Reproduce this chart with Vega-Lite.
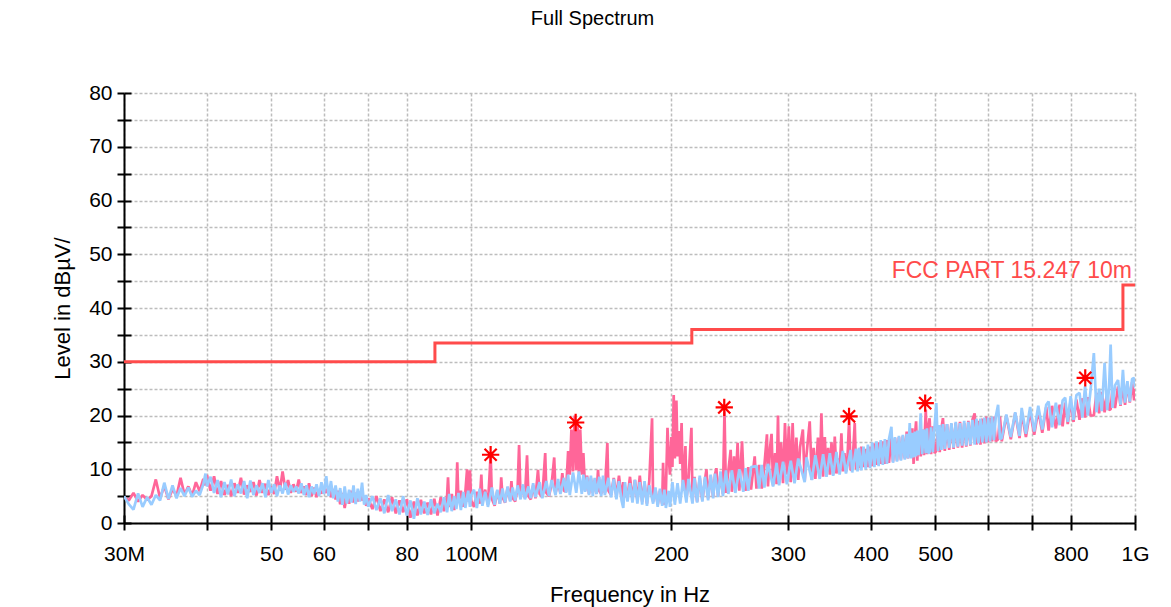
{
  "$schema": "https://vega.github.io/schema/vega-lite/v6.json",
  "width": 1011,
  "height": 430,
  "autosize": "none",
  "padding": {"left": 124, "top": 93, "right": 36, "bottom": 84},
  "background": "white",
  "title": {"text": "Full Spectrum", "fontSize": 20, "font": "Liberation Sans", "fontWeight": "normal", "color": "#000000", "anchor": "middle", "offset": 53, "dx": -37},
  "config": {
    "font": "Liberation Sans",
    "view": {"stroke": null},
    "axis": {
      "domainColor": "#000000", "domainWidth": 2, "tickColor": "#000000", "tickWidth": 2,
      "labelFont": "Liberation Sans", "labelFontSize": 21, "labelColor": "#000000",
      "titleFont": "Liberation Sans", "titleFontSize": 22, "titleFontWeight": "normal", "titleColor": "#000000",
      "gridColor": "#bdbdbd", "gridDash": [3, 2], "gridWidth": 1.5
    }
  },
  "datasets": {
    "spec": [
      {"f":30,"p":4.8,"b":5.0},{"f":30.5,"p":4.2,"b":3.5},{"f":31,"p":5.6,"b":2.5},{"f":31.5,"p":4.0,"b":5.5},
      {"f":32,"p":5.2,"b":3.0},{"f":32.5,"p":4.3,"b":4.8},{"f":33,"p":5.0,"b":3.4},{"f":33.5,"p":8.1,"b":5.2},
      {"f":34,"p":4.6,"b":4.2},{"f":34.5,"p":6.9,"b":7.5},{"f":35,"p":4.4,"b":4.5},{"f":35.5,"p":6.3,"b":7.0},
      {"f":36,"p":5.0,"b":4.6},{"f":36.5,"p":8.4,"b":6.5},{"f":37,"p":5.3,"b":5.0},{"f":37.5,"p":6.8,"b":6.6},
      {"f":38,"p":5.1,"b":4.9},{"f":38.5,"p":7.6,"b":6.0},{"f":39,"p":5.9,"b":5.2},{"f":39.5,"p":8.2,"b":7.2},
      {"f":39.8,"p":7.0,"b":9.2},{"f":40,"p":8.9,"b":6.8},
      {"f":40.5,"p":6.0,"b":8.6},{"f":41,"p":8.7,"b":5.6},{"f":41.5,"p":5.4,"b":8.0},{"f":42,"p":7.8,"b":4.8},
      {"f":42.5,"p":5.2,"b":7.6},{"f":43,"p":7.1,"b":5.3},{"f":43.5,"p":5.0,"b":8.1},{"f":44,"p":7.4,"b":5.0},
      {"f":44.5,"p":5.6,"b":7.2},{"f":45,"p":8.4,"b":5.5},{"f":45.5,"p":5.3,"b":7.8},{"f":46,"p":7.0,"b":4.6},
      {"f":46.5,"p":5.8,"b":7.9},{"f":47,"p":7.6,"b":5.2},{"f":47.5,"p":5.1,"b":7.0},{"f":48,"p":8.0,"b":5.6},
      {"f":48.5,"p":5.6,"b":7.4},{"f":49,"p":7.3,"b":4.8},{"f":49.5,"p":5.2,"b":8.0},{"f":50,"p":6.8,"b":5.6},
      {"f":50.5,"p":5.4,"b":7.2},{"f":51,"p":8.7,"b":5.0},{"f":51.5,"p":6.0,"b":7.0},{"f":52,"p":9.6,"b":5.5},
      {"f":52.5,"p":6.2,"b":7.5},{"f":53,"p":8.0,"b":5.3},{"f":53.5,"p":5.6,"b":7.0},{"f":54,"p":7.2,"b":5.8},
      {"f":54.5,"p":5.8,"b":6.8},{"f":55,"p":8.1,"b":5.5},
      {"f":55.5,"p":5.6,"b":7.4},{"f":56,"p":6.8,"b":5.2},{"f":56.5,"p":5.2,"b":7.0},{"f":57,"p":7.4,"b":4.8},
      {"f":57.5,"p":5.0,"b":6.8},{"f":58,"p":6.6,"b":5.4},{"f":58.5,"p":4.8,"b":7.2},{"f":59,"p":6.2,"b":5.0},
      {"f":59.5,"p":5.5,"b":7.6},{"f":60,"p":6.5,"b":5.4},{"f":60.5,"p":5.6,"b":8.7},{"f":61,"p":6.8,"b":5.0},
      {"f":61.5,"p":4.8,"b":7.8},{"f":62,"p":6.3,"b":4.6},{"f":62.5,"p":4.4,"b":7.0},{"f":63,"p":6.0,"b":4.0},
      {"f":63.5,"p":3.5,"b":6.5},{"f":64,"p":5.6,"b":3.4},{"f":64.5,"p":2.8,"b":6.8},{"f":65,"p":5.4,"b":3.6},
      {"f":65.5,"p":3.6,"b":6.2},{"f":66,"p":6.0,"b":3.8},{"f":66.5,"p":3.8,"b":7.0},{"f":67,"p":5.6,"b":3.5},
      {"f":67.5,"p":4.0,"b":6.4},{"f":68,"p":5.8,"b":4.0},{"f":68.5,"p":4.2,"b":7.5},{"f":69,"p":5.0,"b":3.4},
      {"f":69.5,"p":3.2,"b":5.2},{"f":70,"p":4.6,"b":3.0},
      {"f":71,"p":2.6,"b":5.0},{"f":72,"p":5.0,"b":2.4},{"f":73,"p":2.2,"b":4.6},{"f":74,"p":4.4,"b":1.8},
      {"f":75,"p":2.0,"b":5.2},{"f":76,"p":4.8,"b":2.2},{"f":77,"p":1.8,"b":4.4},{"f":78,"p":4.2,"b":1.6},
      {"f":79,"p":2.0,"b":5.0},{"f":80,"p":4.4,"b":1.4},{"f":81,"p":1.0,"b":4.2},{"f":82,"p":4.0,"b":0.8},
      {"f":83,"p":1.4,"b":4.6},{"f":84,"p":4.3,"b":1.6},{"f":85,"p":1.8,"b":4.0},{"f":86,"p":3.8,"b":1.5},
      {"f":87,"p":1.6,"b":4.4},{"f":88,"p":4.5,"b":1.8},{"f":89,"p":1.4,"b":3.6},{"f":90,"p":4.8,"b":2.0},
      {"f":91,"p":2.2,"b":4.8},{"f":92,"p":5.0,"b":2.0},{"f":92.3,"p":8.5,"b":null},{"f":92.7,"p":3.0,"b":5.4},
      {"f":93.5,"p":5.4,"b":2.2},{"f":94.3,"p":2.4,"b":5.0},{"f":95,"p":5.2,"b":2.6},{"f":95.3,"p":11.3,"b":null},
      {"f":95.7,"p":4.0,"b":5.6},{"f":96.5,"p":6.0,"b":2.4},{"f":97.3,"p":3.0,"b":5.8},{"f":98,"p":5.6,"b":2.8},
      {"f":98.6,"p":10.0,"b":null},{"f":99,"p":4.0,"b":6.0},{"f":99.6,"p":9.8,"b":3.0},{"f":100,"p":4.2,"b":5.2},
      {"f":101,"p":3.0,"b":6.2},{"f":102,"p":5.8,"b":2.8},{"f":103,"p":3.6,"b":6.4},{"f":103.6,"p":9.0,"b":null},
      {"f":104,"p":4.0,"b":3.2},{"f":105,"p":6.2,"b":5.8},{"f":106,"p":3.4,"b":3.0},{"f":107,"p":12.6,"b":null},
      {"f":107.5,"p":4.4,"b":6.6},{"f":108.5,"p":3.2,"b":3.4},{"f":109.5,"p":6.0,"b":6.2},{"f":110.5,"p":3.6,"b":3.6},
      {"f":111,"p":8.5,"b":null},{"f":111.5,"p":4.8,"b":6.4},{"f":112.5,"p":3.8,"b":3.8},{"f":113.5,"p":6.6,"b":6.8},
      {"f":114.5,"p":4.2,"b":4.0},{"f":115,"p":7.8,"b":null},{"f":115.5,"p":4.6,"b":6.6},{"f":116.5,"p":4.0,"b":4.2},
      {"f":117.5,"p":6.5,"b":7.0},{"f":118.1,"p":14.5,"b":null},{"f":118.7,"p":4.8,"b":4.4},{"f":119.7,"p":6.8,"b":7.2},
      {"f":120.5,"p":4.6,"b":4.4},{"f":121.4,"p":12.6,"b":null},{"f":122,"p":5.0,"b":6.8},{"f":123,"p":4.4,"b":4.6},
      {"f":124,"p":7.0,"b":7.4},{"f":125,"p":4.6,"b":4.8},{"f":126.1,"p":9.9,"b":null},{"f":126.8,"p":5.4,"b":7.6},
      {"f":128,"p":4.8,"b":4.6},{"f":129.3,"p":13.0,"b":null},{"f":129.8,"p":5.6,"b":7.8},{"f":131,"p":5.0,"b":5.0},
      {"f":132.2,"p":7.2,"b":8.0},{"f":133.4,"p":12.2,"b":null},{"f":134,"p":5.6,"b":5.2},{"f":135.2,"p":7.4,"b":8.2},
      {"f":136.3,"p":5.6,"b":5.4},{"f":137.2,"p":9.3,"b":null},{"f":138,"p":6.0,"b":8.4},{"f":139,"p":5.8,"b":5.6},
      {"f":140,"p":13.4,"b":9.0},{"f":140.8,"p":9.0,"b":5.2},{"f":141.6,"p":17.4,"b":null},{"f":142.4,"p":9.6,"b":9.4},
      {"f":143.2,"p":20.0,"b":null},{"f":144,"p":9.8,"b":5.6},{"f":144.6,"p":18.8,"b":null},{"f":145.3,"p":9.4,"b":9.6},
      {"f":146,"p":17.4,"b":null},{"f":146.8,"p":9.0,"b":5.4},{"f":147.6,"p":13.0,"b":9.0},{"f":148.5,"p":6.0,"b":5.8},
      {"f":149.5,"p":8.8,"b":8.6},{"f":150.5,"p":5.4,"b":5.2},
      {"f":151.5,"p":8.4,"b":8.8},{"f":152.5,"p":5.6,"b":5.0},{"f":153.5,"p":8.0,"b":8.4},{"f":154.5,"p":5.4,"b":5.4},
      {"f":155.3,"p":9.9,"b":null},{"f":156,"p":6.0,"b":8.6},{"f":157,"p":5.4,"b":5.0},{"f":158,"p":8.2,"b":8.8},
      {"f":159,"p":5.6,"b":5.2},{"f":160.4,"p":14.9,"b":null},{"f":161,"p":6.0,"b":8.4},{"f":162.5,"p":5.2,"b":4.8},
      {"f":164,"p":8.4,"b":8.2},{"f":165.5,"p":5.0,"b":4.4},{"f":167,"p":8.8,"b":7.8},{"f":168.5,"p":4.6,"b":4.2},
      {"f":169.5,"p":7.6,"b":2.8},{"f":170.5,"p":5.6,"b":7.6},{"f":172,"p":4.6,"b":4.0},{"f":173.5,"p":8.6,"b":7.4},
      {"f":175,"p":4.4,"b":3.8},{"f":176.5,"p":8.0,"b":8.0},{"f":178,"p":4.2,"b":3.6},{"f":179.5,"p":8.8,"b":7.6},
      {"f":181,"p":4.0,"b":3.4},{"f":182.5,"p":7.4,"b":7.8},{"f":184,"p":3.6,"b":3.2},{"f":185.5,"p":7.8,"b":7.0},
      {"f":187.3,"p":19.5,"b":null},{"f":188,"p":4.0,"b":3.6},{"f":189.5,"p":6.4,"b":6.6},{"f":191,"p":3.4,"b":3.0},
      {"f":192.5,"p":6.0,"b":6.4},{"f":194,"p":3.6,"b":3.2},{"f":194.6,"p":11.2,"b":null},{"f":195.5,"p":3.4,"b":6.2},
      {"f":196.5,"p":5.8,"b":2.8},{"f":197.6,"p":17.7,"b":null},{"f":198.4,"p":12.4,"b":6.0},{"f":199.3,"p":9.0,"b":3.0},
      {"f":200.3,"p":16.0,"b":null},{"f":201,"p":10.4,"b":7.6},{"f":201.9,"p":23.8,"b":null},{"f":202.7,"p":12.0,"b":3.4},
      {"f":203.8,"p":22.8,"b":null},{"f":204.6,"p":12.4,"b":7.4},{"f":205.7,"p":17.1,"b":null},{"f":206.5,"p":11.0,"b":3.6},
      {"f":207.5,"p":18.6,"b":null},{"f":208.5,"p":6.0,"b":8.0},{"f":210.3,"p":14.3,"b":null},{"f":211,"p":4.4,"b":3.8},
      {"f":212.5,"p":8.0,"b":8.2},{"f":214.7,"p":17.7,"b":null},{"f":215.5,"p":4.2,"b":3.6},{"f":217,"p":8.6,"b":8.4},
      {"f":219,"p":4.0,"b":3.8},{"f":221,"p":8.4,"b":8.8},{"f":223,"p":4.2,"b":4.0},{"f":225,"p":8.0,"b":8.6},
      {"f":226.2,"p":10.0,"b":null},{"f":227.5,"p":4.6,"b":4.2},{"f":229.5,"p":8.8,"b":9.0},{"f":231.5,"p":4.8,"b":4.6},
      {"f":233,"p":9.0,"b":9.2},{"f":234.1,"p":10.2,"b":null},{"f":235.5,"p":5.0,"b":4.8},{"f":237.5,"p":9.2,"b":9.6},
      {"f":239.5,"p":5.4,"b":5.0},{"f":240.8,"p":20.8,"b":null},{"f":242,"p":5.6,"b":9.8},{"f":244,"p":9.6,"b":5.4},
      {"f":246,"p":13.6,"b":null},{"f":247,"p":5.8,"b":9.8},{"f":248.9,"p":12.4,"b":null},{"f":250,"p":6.0,"b":5.6},
      {"f":252,"p":14.9,"b":null},{"f":253.5,"p":6.0,"b":10.0},{"f":255.9,"p":15.2,"b":null},{"f":257,"p":9.8,"b":5.8},
      {"f":259,"p":6.0,"b":10.2},{"f":261.5,"p":10.4,"b":6.0},{"f":264,"p":6.2,"b":10.4},{"f":267.4,"p":12.4,"b":null},
      {"f":269,"p":6.4,"b":10.6},{"f":271.5,"p":10.8,"b":6.4},{"f":274,"p":6.4,"b":10.8},{"f":276.5,"p":10.6,"b":6.6},
      {"f":279,"p":16.5,"b":null},{"f":280,"p":6.8,"b":11.0},{"f":282,"p":14.0,"b":null},{"f":283.5,"p":16.6,"b":null},
      {"f":285,"p":7.0,"b":6.8},{"f":287,"p":13.0,"b":null},{"f":288.5,"p":7.2,"b":11.2},{"f":289.9,"p":20.0,"b":null},
      {"f":291,"p":8.0,"b":7.0},{"f":293,"p":15.0,"b":null},{"f":295,"p":7.4,"b":11.4},{"f":297,"p":18.6,"b":null},
      {"f":299,"p":9.0,"b":7.2},{"f":301,"p":18.0,"b":null},{"f":303,"p":7.6,"b":11.6},{"f":305,"p":18.6,"b":null},
      {"f":307,"p":8.0,"b":7.4},{"f":309,"p":15.9,"b":null},{"f":311,"p":8.0,"b":12.0},{"f":313,"p":14.2,"b":null},
      {"f":316,"p":17.4,"b":null},{"f":318,"p":7.8,"b":7.6},{"f":320,"p":12.6,"b":12.2},{"f":323.6,"p":18.9,"b":null},
      {"f":326,"p":8.0,"b":8.0},{"f":328,"p":14.0,"b":null},{"f":330,"p":8.2,"b":12.6},{"f":333,"p":15.9,"b":null},
      {"f":335,"p":8.4,"b":8.2},{"f":337,"p":20.4,"b":null},{"f":339,"p":8.6,"b":12.8},{"f":341,"p":16.0,"b":null},
      {"f":343,"p":8.8,"b":8.6},{"f":345,"p":14.0,"b":null},{"f":347,"p":9.0,"b":13.0},{"f":349,"p":15.0,"b":null},
      {"f":351,"p":9.0,"b":8.8},{"f":353,"p":16.1,"b":null},{"f":355,"p":9.2,"b":13.2},{"f":357,"p":12.0,"b":null},
      {"f":359,"p":9.4,"b":9.0},{"f":361.2,"p":16.7,"b":null},{"f":363,"p":9.6,"b":13.4},{"f":365,"p":13.0,"b":null},
      {"f":367,"p":9.6,"b":9.2},{"f":369,"p":12.5,"b":null},{"f":371,"p":19.2,"b":null},{"f":373,"p":9.8,"b":13.6},
      {"f":375,"p":10.0,"b":9.4},{"f":378.3,"p":18.6,"b":null},{"f":380,"p":10.0,"b":13.8},{"f":382,"p":13.0,"b":9.6},
      {"f":384,"p":10.2,"b":14.0},{"f":387,"p":14.2,"b":9.8},{"f":390,"p":10.4,"b":14.2},{"f":393,"p":13.8,"b":10.0},
      {"f":396,"p":10.4,"b":14.6},{"f":399,"p":14.2,"b":10.2},{"f":402,"p":10.6,"b":15.0},
      {"f":405,"p":14.8,"b":10.4},{"f":408,"p":10.8,"b":15.2},{"f":411,"p":15.0,"b":10.6},{"f":414,"p":11.0,"b":15.4},
      {"f":417,"p":15.2,"b":10.8},{"f":420,"p":11.0,"b":15.6},{"f":423,"p":15.4,"b":11.0},{"f":426,"p":11.2,"b":15.6},
      {"f":429.6,"p":15.8,"b":17.9},{"f":432,"p":11.4,"b":11.2},{"f":435,"p":15.8,"b":16.0},{"f":438,"p":11.6,"b":11.4},
      {"f":441,"p":16.0,"b":16.2},{"f":444,"p":11.8,"b":11.6},{"f":447,"p":16.2,"b":16.4},{"f":450,"p":12.0,"b":11.8},
      {"f":453,"p":17.0,"b":16.6},{"f":455,"p":12.0,"b":12.0},{"f":457.8,"p":16.6,"b":18.6},{"f":460,"p":12.2,"b":12.0},
      {"f":462,"p":17.6,"b":16.8},{"f":464,"p":11.0,"b":12.2},{"f":466,"p":16.0,"b":17.0},{"f":468,"p":18.9,"b":12.4},
      {"f":470,"p":11.6,"b":17.2},{"f":472,"p":17.0,"b":12.6},{"f":475.6,"p":12.4,"b":20.4},{"f":478,"p":17.4,"b":12.8},
      {"f":481,"p":12.6,"b":17.4},{"f":484,"p":21.1,"b":13.0},{"f":486,"p":12.8,"b":17.6},{"f":488,"p":17.6,"b":13.0},
      {"f":490.5,"p":19.5,"b":13.2},{"f":493,"p":12.8,"b":17.8},{"f":496,"p":18.0,"b":13.2},{"f":499,"p":13.0,"b":18.0},
      {"f":502,"p":13.4,"b":22.3},{"f":505,"p":18.0,"b":13.4},{"f":508,"p":13.2,"b":18.2},{"f":511,"p":17.6,"b":13.6},
      {"f":513.7,"p":19.5,"b":18.4},{"f":517,"p":13.4,"b":13.8},{"f":521,"p":18.4,"b":18.4},{"f":525,"p":13.6,"b":14.0},
      {"f":529,"p":18.4,"b":18.6},{"f":533,"p":13.8,"b":14.0},{"f":537,"p":18.6,"b":18.8},{"f":541,"p":14.0,"b":14.2},
      {"f":545,"p":18.8,"b":18.6},{"f":549,"p":14.0,"b":14.4},{"f":553,"p":18.6,"b":19.0},{"f":557,"p":14.2,"b":14.4},
      {"f":561,"p":19.0,"b":18.8},{"f":565,"p":14.4,"b":14.6},{"f":569,"p":19.2,"b":19.2},{"f":573.4,"p":20.4,"b":14.6},
      {"f":577,"p":14.6,"b":19.4},{"f":581,"p":19.0,"b":14.8},{"f":585,"p":14.6,"b":19.4},{"f":589,"p":19.4,"b":15.0},
      {"f":593,"p":14.8,"b":19.6},{"f":597,"p":19.8,"b":15.0},{"f":601,"p":15.0,"b":19.6},{"f":605,"p":19.6,"b":15.2},
      {"f":609,"p":15.2,"b":19.8},{"f":613,"p":19.8,"b":15.4},{"f":617,"p":15.2,"b":19.8},{"f":622,"p":15.6,"b":22.0},
      {"f":626,"p":19.8,"b":15.6},{"f":630,"p":15.2,"b":15.8},{"f":640,"p":20.0,"b":20.2},{"f":650,"p":15.6,"b":16.0},
      {"f":660,"p":20.4,"b":20.6},{"f":670,"p":15.8,"b":16.2},{"f":675,"p":20.6,"b":21.4},{"f":685,"p":16.0,"b":16.6},
      {"f":695,"p":20.8,"b":21.6},{"f":705,"p":16.4,"b":17.0},{"f":715,"p":21.0,"b":21.8},{"f":725,"p":16.8,"b":17.4},
      {"f":735,"p":21.6,"b":22.0},{"f":741,"p":17.2,"b":22.6},{"f":750,"p":21.8,"b":17.8},{"f":760,"p":17.6,"b":22.4},
      {"f":770,"p":22.0,"b":18.2},{"f":778,"p":18.0,"b":22.8},{"f":785,"p":22.4,"b":23.3},{"f":792,"p":18.4,"b":18.8},
      {"f":800,"p":22.8,"b":23.6},{"f":808,"p":18.8,"b":19.2},{"f":816,"p":23.0,"b":23.8},{"f":825,"p":19.2,"b":24.2},
      {"f":833,"p":23.2,"b":19.6},{"f":841,"p":19.6,"b":25.4},{"f":849,"p":23.4,"b":20.0},{"f":857,"p":20.0,"b":24.6},
      {"f":867,"p":20.0,"b":31.6},{"f":875,"p":24.2,"b":20.6},{"f":883,"p":20.4,"b":25.0},{"f":891,"p":24.4,"b":20.8},
      {"f":900,"p":20.6,"b":29.8},{"f":908,"p":24.6,"b":21.0},{"f":914,"p":21.0,"b":25.2},{"f":919,"p":21.2,"b":33.2},
      {"f":925,"p":25.0,"b":21.4},{"f":933,"p":21.4,"b":25.6},{"f":943,"p":25.4,"b":26.6},{"f":951,"p":21.8,"b":22.0},
      {"f":959,"p":25.6,"b":28.5},{"f":966,"p":22.0,"b":22.4},{"f":974,"p":26.0,"b":26.4},{"f":982,"p":22.4,"b":22.6},
      {"f":990,"p":26.2,"b":26.8},{"f":997,"p":22.8,"b":27.0},{"f":1000,"p":25.0,"b":25.2}
    ],
    "limit": [
      {"f":30,"v":30.0},{"f":88.2,"v":33.5},{"f":215,"v":36.0},{"f":959,"v":44.3},{"f":1000,"v":44.3}
    ],
    "marks": [
      {"f":107.0,"v":12.7},{"f":143.7,"v":18.7},{"f":240.6,"v":21.5},{"f":370.9,"v":19.85},{"f":483,"v":22.3},{"f":841.5,"v":27.0}
    ],
    "label": [
      {"f":1000,"v":44.3,"t":"FCC PART 15.247 10m"}
    ]
  },
  "layer": [
    {
      "data": {"name": "spec"},
      "mark": {"type": "line", "color": "#ff6699", "strokeWidth": 2.7, "strokeJoin": "bevel", "clip": true},
      "encoding": {
        "x": {"field": "f", "type": "quantitative", "scale": {"type": "log", "domain": [30, 1000], "nice": false},
          "axis": {"title": "Frequency in Hz", "values": [30,40,50,60,70,80,100,200,300,400,500,600,700,800,1000],
            "labelExpr": "datum.value === 30 ? '30M' : datum.value === 100 ? '100M' : datum.value === 1000 ? '1G' : indexof([50,60,80,200,300,400,500,800], datum.value) >= 0 ? ('' + datum.value) : ''",
            "tickSize": 7, "labelPadding": 13, "labelFlush": false, "labelOverlap": false, "grid": true, "titlePadding": 20}},
        "y": {"field": "p", "type": "quantitative", "scale": {"domain": [0, 80], "nice": false},
          "axis": {"title": "Level in dBµV/", "values": [0,5,10,15,20,25,30,35,40,45,50,55,60,65,70,75,80],
            "labelExpr": "datum.value % 10 === 0 ? ('' + datum.value) : ''",
            "tickSize": 7, "labelPadding": 5, "labelOverlap": false, "grid": true, "titlePadding": 14}}
      }
    },
    {
      "data": {"name": "spec"},
      "mark": {"type": "line", "color": "#99ccff", "strokeWidth": 2.7, "strokeJoin": "bevel", "invalid": "filter", "clip": true},
      "encoding": {
        "x": {"field": "f", "type": "quantitative", "scale": {"type": "log", "domain": [30, 1000], "nice": false},
          "axis": {"orient": "bottom", "offset": -8, "values": [30,40,50,60,70,80,100,200,300,400,500,600,700,800,1000],
            "labels": false, "domain": false, "grid": false, "tickSize": 8, "title": null}},
        "y": {"field": "b", "type": "quantitative", "scale": {"domain": [0, 80], "nice": false},
          "axis": {"orient": "left", "offset": -7, "values": [0,5,10,15,20,25,30,35,40,45,50,55,60,65,70,75,80],
            "labels": false, "domain": false, "grid": false, "tickSize": 7, "title": null}}
      }
    },
    {
      "data": {"name": "limit"},
      "mark": {"type": "line", "color": "#ff4b4b", "strokeWidth": 3, "interpolate": "step-after"},
      "encoding": {
        "x": {"field": "f", "type": "quantitative", "scale": {"type": "log", "domain": [30, 1000], "nice": false}, "axis": null},
        "y": {"field": "v", "type": "quantitative", "scale": {"domain": [0, 80], "nice": false}, "axis": null}
      }
    },
    {
      "data": {"name": "marks"},
      "mark": {"type": "point", "shape": "M-1,0L1,0M0,-1L0,1M-0.7,-0.7L0.7,0.7M-0.7,0.7L0.7,-0.7", "filled": false, "color": "#ff0000", "strokeWidth": 2.2, "size": 300, "opacity": 1},
      "encoding": {
        "x": {"field": "f", "type": "quantitative", "scale": {"type": "log", "domain": [30, 1000], "nice": false}, "axis": null},
        "y": {"field": "v", "type": "quantitative", "scale": {"domain": [0, 80], "nice": false}, "axis": null}
      }
    },
    {
      "data": {"name": "label"},
      "mark": {"type": "text", "align": "right", "baseline": "alphabetic", "dx": -3, "dy": -7, "fontSize": 23, "font": "Liberation Sans", "color": "#ff4b4b"},
      "encoding": {
        "x": {"field": "f", "type": "quantitative", "scale": {"type": "log", "domain": [30, 1000], "nice": false}, "axis": null},
        "y": {"field": "v", "type": "quantitative", "scale": {"domain": [0, 80], "nice": false}, "axis": null},
        "text": {"field": "t"}
      }
    }
  ],
  "resolve": {"axis": {"x": "independent", "y": "independent"}}
}
